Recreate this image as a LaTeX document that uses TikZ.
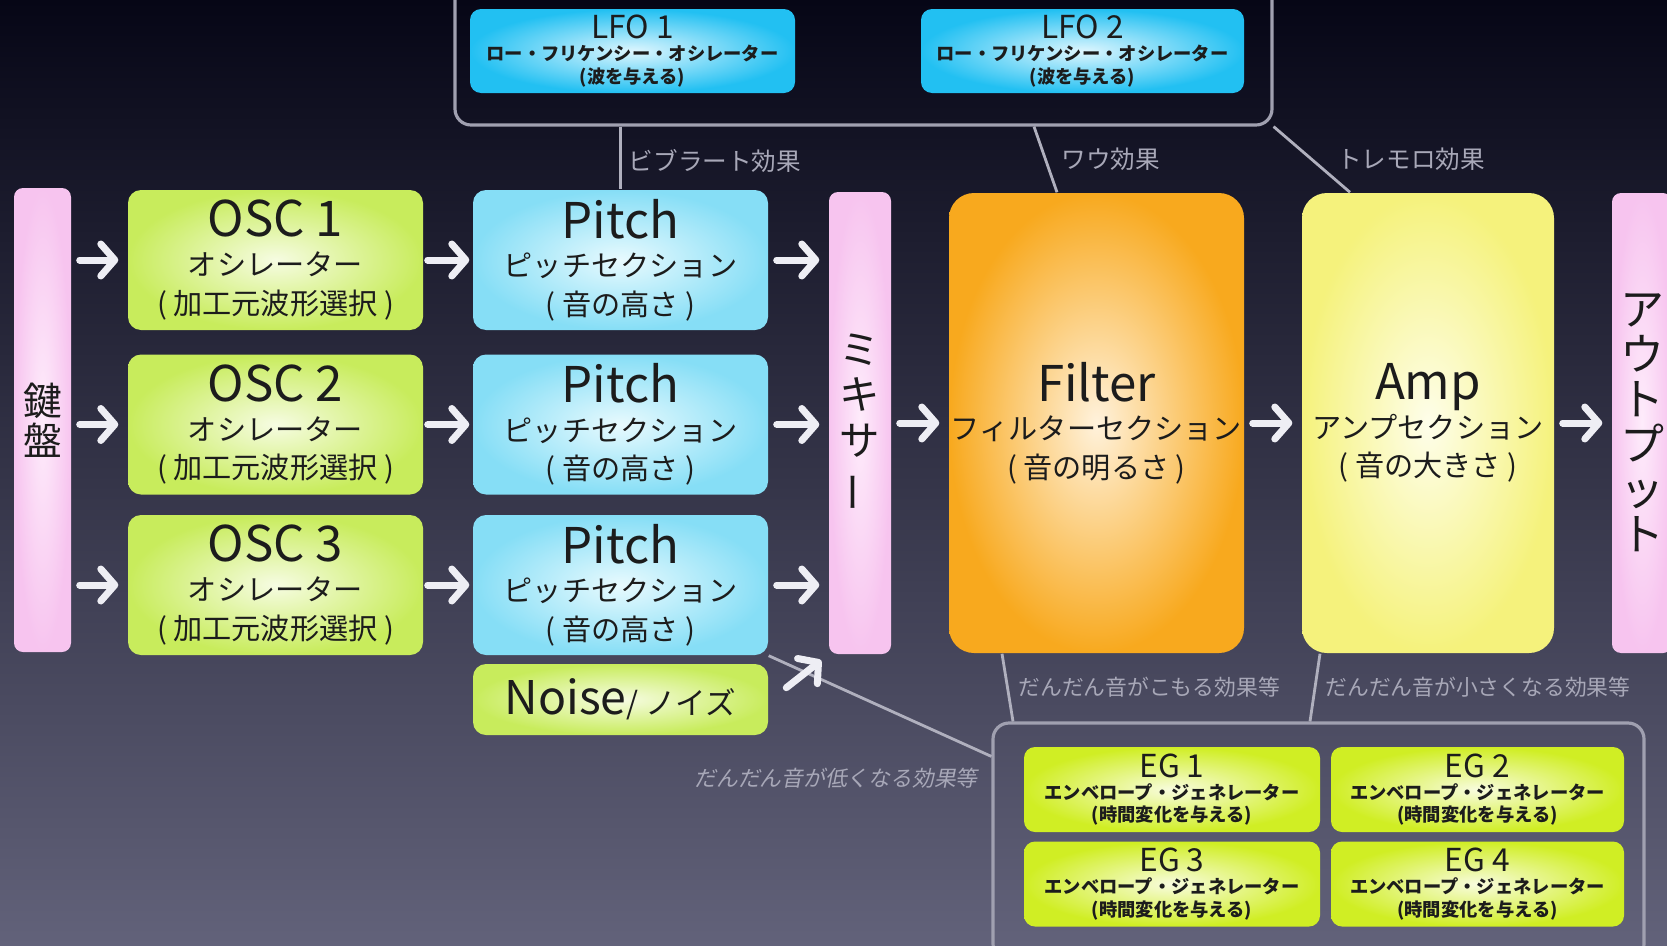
\documentclass[tikz,border=0pt]{standalone}
\usepackage{fontspec}
\setmainfont{Noto Sans CJK JP}
\newfontfamily\slantjp[FakeSlant=0.2]{Noto Sans CJK JP}
\usepackage{graphicx}
\usetikzlibrary{calc}
\usetikzlibrary{arrows.meta}

\definecolor{bgtop}{RGB}{6,6,22}
\definecolor{bgmid}{RGB}{40,40,64}
\definecolor{bgbot}{RGB}{98,98,122}
\definecolor{lime}{RGB}{200,236,92}
\definecolor{limein}{RGB}{246,252,226}
\definecolor{eglime}{RGB}{208,238,36}
\definecolor{eglimein}{RGB}{248,252,222}
\definecolor{pitchcyan}{RGB}{134,222,246}
\definecolor{pitchcyanin}{RGB}{232,250,254}
\definecolor{lfoblue}{RGB}{34,192,242}
\definecolor{lfobluein}{RGB}{222,246,254}
\definecolor{pinkbarcol}{RGB}{247,196,239}
\definecolor{pinkbarin}{RGB}{254,236,251}
\definecolor{filterorange}{RGB}{248,169,30}
\definecolor{filterorangein}{RGB}{255,242,220}
\definecolor{ampyellow}{RGB}{245,242,124}
\definecolor{ampyellowin}{RGB}{254,254,234}
\definecolor{inktext}{RGB}{28,28,28}
\definecolor{linegray}{RGB}{176,176,190}
\definecolor{framegray}{RGB}{160,160,176}
\definecolor{taggray}{RGB}{168,168,184}
\definecolor{arrowwhite}{RGB}{238,238,244}

\newcommand{\boxtitle}[1]{{\fontsize{14}{11}\selectfont #1}}
\newcommand{\smalltitle}[1]{{\fontsize{9}{6.3}\selectfont\mdseries #1}}

\begin{document}
\begin{tikzpicture}[x=0.1mm,y=-0.1mm,
    box/.style={rounded corners=1.3mm,inner sep=0pt,text=inktext,align=center,font=\fontsize{8.3}{11}\selectfont},
    oscbox/.style={box,minimum width=29.5mm,minimum height=14mm,inner color=limein,outer color=lime},
    pitchbox/.style={box,minimum width=29.5mm,minimum height=14mm,inner color=pitchcyanin,outer color=pitchcyan},
    pinkbar/.style={box,rounded corners=0.9mm,inner color=pinkbarin,outer color=pinkbarcol},
    bigbox/.style={box,rounded corners=2.5mm,minimum height=46mm},
    smallbox/.style={box,rounded corners=1.1mm,minimum height=8.4mm,font=\fontsize{5.2}{6.3}\selectfont\bfseries},
    groupframe/.style={draw=framegray,line width=0.9pt,rounded corners=1.6mm,inner sep=0pt},
    link/.style={draw=linegray,line width=0.8pt},
    tag/.style={text=taggray,inner sep=0.7mm,font=\fontsize{7}{7}\selectfont},
    smalltag/.style={tag,font=\fontsize{6.2}{6.2}\selectfont},
    flow/.style={draw=arrowwhite,line width=0.7mm,line cap=round,-{Straight Barb[length=1.4mm,width=3.2mm,round]},shorten <=0.8mm,shorten >=0.9mm}]
    \useasboundingbox (0,0) rectangle (1667,946);
    \clip (0,0) rectangle (1667,946);
    \shade[top color=bgtop,middle color=bgmid,bottom color=bgbot] (0,0) rectangle (1667,946);

    \node[groupframe,minimum width=81.7mm,minimum height=14mm] (lfoframe) at (863.5,55) {};
    \node[groupframe,minimum width=65.1mm,minimum height=23.7mm] (egframe) at (1318.5,841.5) {};

    \node[smallbox,minimum width=32.5mm,inner color=lfobluein,outer color=lfoblue] (lfo1) at (632.5,51) {\smalltitle{LFO 1}\\ロー・フリケンシー・オシレーター\\(波を与える)};
    \node[smallbox,minimum width=32.3mm,inner color=lfobluein,outer color=lfoblue] (lfo2) at (1082.5,51) {\smalltitle{LFO 2}\\ロー・フリケンシー・オシレーター\\(波を与える)};

    \node[pinkbar,minimum width=5.7mm,minimum height=46.4mm,font=\fontsize{11}{11.5}\selectfont] (kb) at (42.5,420) {鍵\\盤};
    \node[oscbox] (osc1) at (275.5,260) {\boxtitle{OSC 1}\\オシレーター\\( 加工元波形選択 )};
    \node[oscbox] (osc2) at (275.5,424.5) {\boxtitle{OSC 2}\\オシレーター\\( 加工元波形選択 )};
    \node[oscbox] (osc3) at (275.5,585) {\boxtitle{OSC 3}\\オシレーター\\( 加工元波形選択 )};
    \node[pitchbox] (pitch1) at (620.5,260) {\boxtitle{Pitch}\\ピッチセクション\\( 音の高さ )};
    \node[pitchbox] (pitch2) at (620.5,424.5) {\boxtitle{Pitch}\\ピッチセクション\\( 音の高さ )};
    \node[pitchbox] (pitch3) at (620.5,585) {\boxtitle{Pitch}\\ピッチセクション\\( 音の高さ )};
    \node[oscbox,minimum height=7.1mm] (noise) at (620.5,699.5) {{\fontsize{13.2}{11}\selectfont Noise}{\fontsize{8.7}{11}\selectfont/ ノイズ}};
    \node[pinkbar,minimum width=6.2mm,minimum height=46.2mm,font=\fontsize{11.5}{12.9}\selectfont] (mixer) at (860,423) {ミ\\キ\\サ\\\rotatebox[origin=c]{90}{ー}};
    \node[bigbox,minimum width=29.5mm,inner color=filterorangein,outer color=filterorange] (filter) at (1096.5,423) {\boxtitle{Filter}\\フィルターセクション\\( 音の明るさ )};
    \node[bigbox,minimum width=25.2mm,inner color=ampyellowin,outer color=ampyellow] (amp) at (1428,423) {\boxtitle{Amp}\\アンプセクション\\( 音の大きさ )};
    \node[pinkbar,minimum width=6mm,minimum height=46mm,font=\fontsize{12.5}{12.8}\selectfont] (out) at (1642,423) {ア\\ウ\\ト\\プ\\ッ\\ト};

    \node[smallbox,minimum width=29.6mm,minimum height=8.5mm,inner color=eglimein,outer color=eglime] (eg1) at (1172,789.5) {\smalltitle{EG 1}\\エンベロープ・ジェネレーター\\(時間変化を与える)};
    \node[smallbox,minimum width=29.3mm,minimum height=8.5mm,inner color=eglimein,outer color=eglime] (eg2) at (1477.5,789.5) {\smalltitle{EG 2}\\エンベロープ・ジェネレーター\\(時間変化を与える)};
    \node[smallbox,minimum width=29.6mm,minimum height=8.5mm,inner color=eglimein,outer color=eglime] (eg3) at (1172,884) {\smalltitle{EG 3}\\エンベロープ・ジェネレーター\\(時間変化を与える)};
    \node[smallbox,minimum width=29.3mm,minimum height=8.5mm,inner color=eglimein,outer color=eglime] (eg4) at (1477.5,884) {\smalltitle{EG 4}\\エンベロープ・ジェネレーター\\(時間変化を与える)};

    \draw[link] (lfoframe.south-|pitch1.north) -- node[tag,right,yshift=-0.3mm] {ビブラート効果} (pitch1.north);
    \draw[link] ($(lfoframe.south)+(170.5,0)$) -- node[tag,right,xshift=0.75mm] {ワウ効果} ($(filter.north)+(-39.5,0)$);
    \draw[link] (lfoframe.south east) -- node[tag,right,xshift=1.7mm] {トレモロ効果} ($(amp.north)+(-78,0)$);
    \draw[link] ($(filter.south)+(-94.5,0)$) -- node[smalltag,right,xshift=0.25mm] {だんだん音がこもる効果等} ($(egframe.north)+(-305.5,0)$);
    \draw[link] ($(amp.south)+(-108,0)$) -- node[smalltag,right,xshift=0.2mm] {だんだん音が小さくなる効果等} ($(egframe.north)+(-8.5,0)$);
    \draw[link] ($(egframe.north west)+(0,35)$) -- (pitch3.south east);
    \node[smalltag,anchor=east,font=\fontsize{6.2}{6.2}\slantjp] (lowtag) at ($(egframe.north west)+(-6,57)$) {だんだん音が低くなる効果等};

    \draw[flow] (kb.east|-osc1) -- (osc1.west);
    \draw[flow] (kb.east|-osc2) -- (osc2.west);
    \draw[flow] (kb.east|-osc3) -- (osc3.west);
    \draw[flow,shorten <=0.4mm,shorten >=0.3mm] (osc1) -- (pitch1);
    \draw[flow,shorten <=0.4mm,shorten >=0.3mm] (osc2) -- (pitch2);
    \draw[flow,shorten <=0.4mm,shorten >=0.3mm] (osc3) -- (pitch3);
    \draw[flow] (pitch1.east) -- (pitch1.east-|mixer.west);
    \draw[flow] (pitch2.east) -- (pitch2.east-|mixer.west);
    \draw[flow] (pitch3.east) -- (pitch3.east-|mixer.west);
    \draw[flow] (mixer) -- (filter);
    \draw[flow] (filter) -- (amp);
    \draw[flow] (amp) -- (out);
    \draw[flow,shorten <=0mm] ($(mixer.south west)+(-42,33)$) -- (mixer.south west);
\end{tikzpicture}
\end{document}
